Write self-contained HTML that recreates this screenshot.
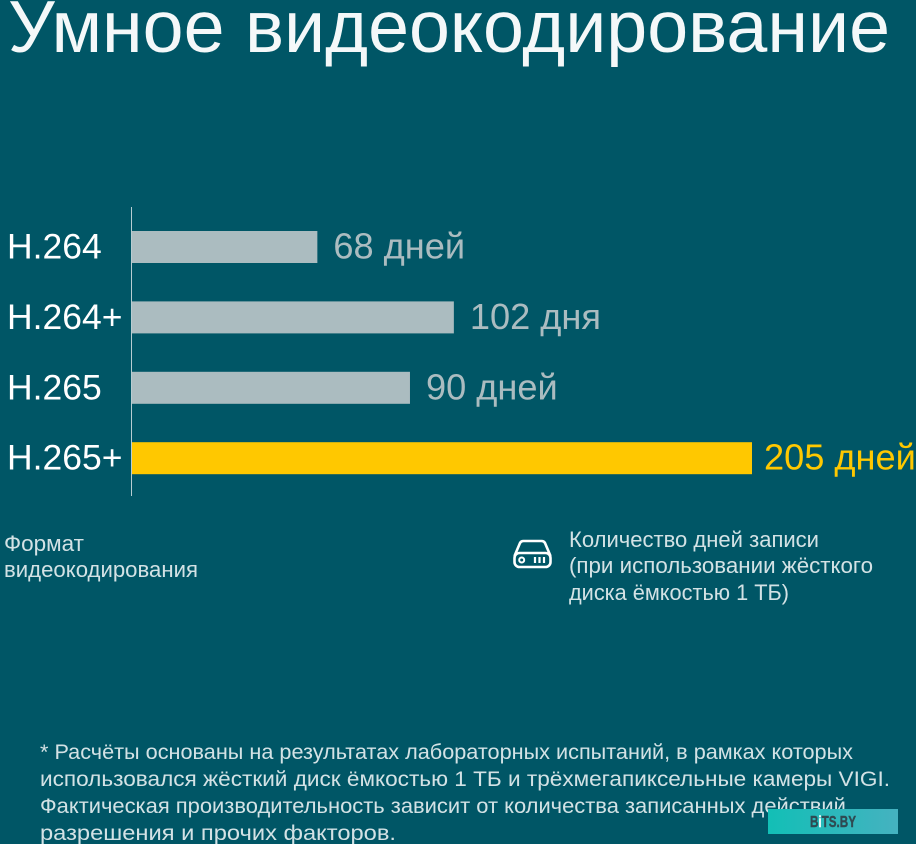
<!DOCTYPE html>
<html lang="ru">
<head>
<meta charset="utf-8">
<title>Умное видеокодирование</title>
<style>
html,body{margin:0;padding:0;background:#005666;}
svg{display:block;font-family:"Liberation Sans","DejaVu Sans",sans-serif;}
</style>
</head>
<body>
<svg id="chart" width="916" height="844" viewBox="0 0 916 844" xmlns="http://www.w3.org/2000/svg">
  <defs>
    <linearGradient id="wm" x1="0" x2="1" y1="0" y2="0">
      <stop offset="0" stop-color="#12bfb6"/>
      <stop offset="1" stop-color="#45b2c0"/>
    </linearGradient>
  </defs>
  <rect width="916" height="844" fill="#005666"/>
  <text x="8" y="52" font-size="73" fill="#f4f8f9" textLength="882" lengthAdjust="spacingAndGlyphs">Умное видеокодирование</text>

  <g id="bars"></g>

  <line x1="131.5" y1="207" x2="131.5" y2="496" stroke="#b8cdd2" stroke-width="1"/>

  <text x="4" y="551" font-size="22" fill="#d3e2e5" textLength="80" lengthAdjust="spacingAndGlyphs">Формат</text>
  <text x="4" y="577" font-size="22" fill="#d3e2e5" textLength="194" lengthAdjust="spacingAndGlyphs">видеокодирования</text>

  <g fill="none" stroke="#ffffff" stroke-width="2.6" stroke-linejoin="round">
    <path d="M514.500 556 L520 543 Q521 541 523.500 541 L541.500 541 Q544 541 545 543 L550.500 556"/>
    <rect x="514.500" y="553" width="36" height="14" rx="5"/>
    <circle cx="521.700" cy="560" r="2.500" stroke-width="2"/>
    <path d="M535 557V563M539.500 557V563M544 557V563" stroke-width="2.200"/>
  </g>

  <text x="569" y="547" font-size="22" fill="#d3e2e5" textLength="250" lengthAdjust="spacingAndGlyphs">Количество дней записи</text>
  <text x="569" y="573" font-size="22" fill="#d3e2e5" textLength="304" lengthAdjust="spacingAndGlyphs">(при использовании жёсткого</text>
  <text x="569" y="600" font-size="22" fill="#d3e2e5" textLength="220" lengthAdjust="spacingAndGlyphs">диска ёмкостью 1 ТБ)</text>

  <text x="40" y="759" font-size="21.500" fill="#d3e2e5" textLength="813" lengthAdjust="spacingAndGlyphs">* Расчёты основаны на результатах лабораторных испытаний, в рамках которых</text>
  <text x="40" y="786" font-size="21.500" fill="#d3e2e5" textLength="850" lengthAdjust="spacingAndGlyphs">использовался жёсткий диск ёмкостью 1 ТБ и трёхмегапиксельные камеры VIGI.</text>
  <text x="40" y="813" font-size="21.500" fill="#d3e2e5" textLength="812" lengthAdjust="spacingAndGlyphs">Фактическая производительность зависит от количества записанных действий,</text>
  <text x="40" y="840" font-size="21.500" fill="#d3e2e5" textLength="356" lengthAdjust="spacingAndGlyphs">разрешения и прочих факторов.</text>

  <g>
    <rect x="768" y="809" width="130" height="25" fill="url(#wm)"/>
    <text x="810" y="827" font-size="16" font-weight="700" fill="#2f4a52" stroke="#2f4a52" stroke-width="0.4" textLength="46" lengthAdjust="spacingAndGlyphs">B<tspan fill="#f2fbfb" stroke="#f2fbfb">i</tspan>TS.BY</text>
  </g>
</svg>
<script>
const categories = ["H.264", "H.264+", "H.265", "H.265+"];
const barLengths = [61.4, 106.5, 92, 205];
const valueLabels = ["68 дней", "102 дня", "90 дней", "205 дней"];
const highlighted = [false, false, false, true];

const SVG_NS = "http://www.w3.org/2000/svg";
const barsGroup = document.getElementById("bars");
const X_ZERO = 131.5;
const PX_PER_DAY = 620.5 / 205;
const FIRST_BAND_TOP = 231;
const BAND_STEP = 70.4;
const BAR_HEIGHT = 32;

function xScale(v) { return X_ZERO + v * PX_PER_DAY; }
function yScale(i) { return FIRST_BAND_TOP + i * BAND_STEP; }

categories.forEach(function (cat, i) {
  const top = yScale(i);
  const baseline = top + 27.500;

  const label = document.createElementNS(SVG_NS, "text");
  
  
  label.setAttribute("x", 7);
  label.setAttribute("y", baseline);
  label.setAttribute("font-size", 35.500);
  label.setAttribute("fill", "#ffffff");
  label.textContent = cat;
  barsGroup.appendChild(label);

  const bar = document.createElementNS(SVG_NS, "rect");
  
  
  bar.setAttribute("x", X_ZERO);
  bar.setAttribute("y", top);
  bar.setAttribute("width", xScale(barLengths[i]) - X_ZERO);
  bar.setAttribute("height", BAR_HEIGHT);
  bar.setAttribute("fill", highlighted[i] ? "#ffc800" : "#abbcc0");
  barsGroup.appendChild(bar);

  const value = document.createElementNS(SVG_NS, "text");
  
  
  value.setAttribute("x", xScale(barLengths[i]) + (highlighted[i] ? 12 : 16));
  value.setAttribute("y", baseline);
  value.setAttribute("font-size", 36.200);
  value.setAttribute("fill", highlighted[i] ? "#ffc800" : "#abbcc0");
  value.textContent = valueLabels[i];
  barsGroup.appendChild(value);
});
</script>
</body>
</html>
